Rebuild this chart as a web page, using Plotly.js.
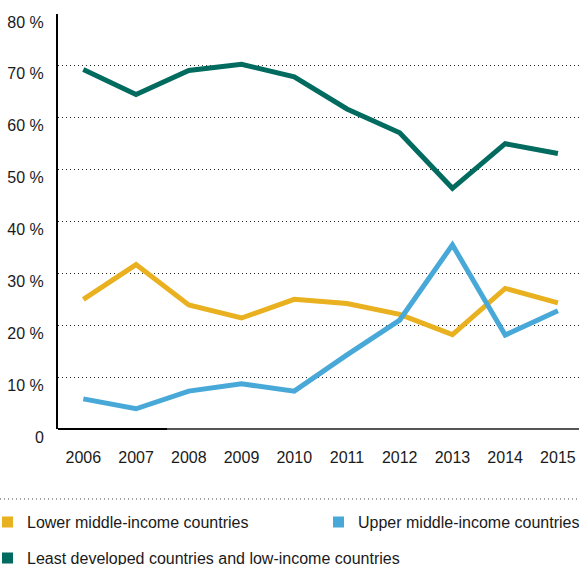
<!DOCTYPE html>
<html>
<head>
<meta charset="utf-8">
<script src="https://cdn.plot.ly/plotly-3.0.1.min.js"></script>
<style>html,body{margin:0;padding:0;background:#fff;}#chart{width:579px;height:565px;}</style>
</head>
<body>
<div id="chart"></div>
<script>
const years = [2006, 2007, 2008, 2009, 2010, 2011, 2012, 2013, 2014, 2015];
const lowerMiddle = [25.0, 31.7, 23.9, 21.4, 25.0, 24.2, 22.1, 18.2, 27.1, 24.3];
const upperMiddle = [5.8, 3.9, 7.3, 8.7, 7.3, 14.3, 21.0, 35.5, 18.1, 22.8];
const leastDeveloped = [69.3, 64.5, 69.1, 70.3, 67.9, 61.7, 57.1, 46.4, 55.0, 53.1];
const seriesNames = ["Lower middle-income countries", "Upper middle-income countries", "Least developed countries and low-income countries"];
const colors = ["#E9B11F", "#48A8D8", "#006B5E"];
const yTickVals = [0, 10, 20, 30, 40, 50, 60, 70, 80];
const yTickText = ["0", "10 %", "20 %", "30 %", "40 %", "50 %", "60 %", "70 %", "80 %"];

const W = 579, H = 565, ML = 58, MR = 0, MT = 14, MB = 136;
const pw = W - ML - MR, ph = H - MT - MB;
const px = x => (x - ML) / pw;
const py = y => (H - MB - y) / ph;

const font = "Liberation Sans, Arial, sans-serif";
const textColor = "#1a1a1a";

const traces = [lowerMiddle, upperMiddle, leastDeveloped].map((vals, i) => ({
  x: years, y: vals, type: "scatter", mode: "lines", name: seriesNames[i],
  line: {color: colors[i], width: 5}, showlegend: false
}));

const shapes = [
  {type: "line", xref: "paper", yref: "paper", x0: 0, x1: px(167), y0: 0, y1: 0, line: {color: "#000", width: 2}},
  {type: "line", xref: "paper", yref: "paper", x0: px(167), x1: 1, y0: 0, y1: 0, line: {color: "#555", width: 2}},
  {type: "line", xref: "paper", yref: "paper", x0: px(0), x1: 1, y0: py(499), y1: py(499), line: {color: "#444", width: 1, dash: "1px,3px"}},
];
const annotations = [];
const legendPos = [[2, 522], [333, 522], [2, 558]];
legendPos.forEach((p, i) => {
  shapes.push({type: "rect", xref: "paper", yref: "paper", x0: px(p[0]), x1: px(p[0] + 11), y0: py(p[1] - 5.5), y1: py(p[1] + 5.5), fillcolor: colors[i], line: {width: 0}});
  annotations.push({xref: "paper", yref: "paper", x: px(p[0] + 23), y: py(p[1]), xanchor: "left", yanchor: "middle", showarrow: false, text: seriesNames[i], font: {family: font, size: 16, color: textColor}});
});

const layout = {
  width: W, height: H,
  margin: {l: ML, r: MR, t: MT, b: MB, pad: 0},
  paper_bgcolor: "#fff", plot_bgcolor: "#fff",
  showlegend: false,
  font: {family: font, size: 16, color: textColor},
  xaxis: {
    range: [2005.52, 2015.4], tickvals: years, ticktext: years.map(String),
    showgrid: false, zeroline: false, showline: false, ticks: "",
    ticklabelstandoff: 17, tickfont: {family: font, size: 16, color: textColor}
  },
  yaxis: {
    range: [0, 80], tickvals: yTickVals, ticktext: yTickText,
    showgrid: true, gridcolor: "#222", gridwidth: 1, griddash: "1px,3px",
    zeroline: false, showline: true, linecolor: "#000", linewidth: 2,
    ticks: "", ticklabelstandoff: 9, ticklabelshift: 8,
    tickfont: {family: font, size: 16, color: textColor}
  },
  shapes: shapes, annotations: annotations
};

Plotly.newPlot("chart", traces, layout, {displayModeBar: false, staticPlot: true});
</script>
</body>
</html>
